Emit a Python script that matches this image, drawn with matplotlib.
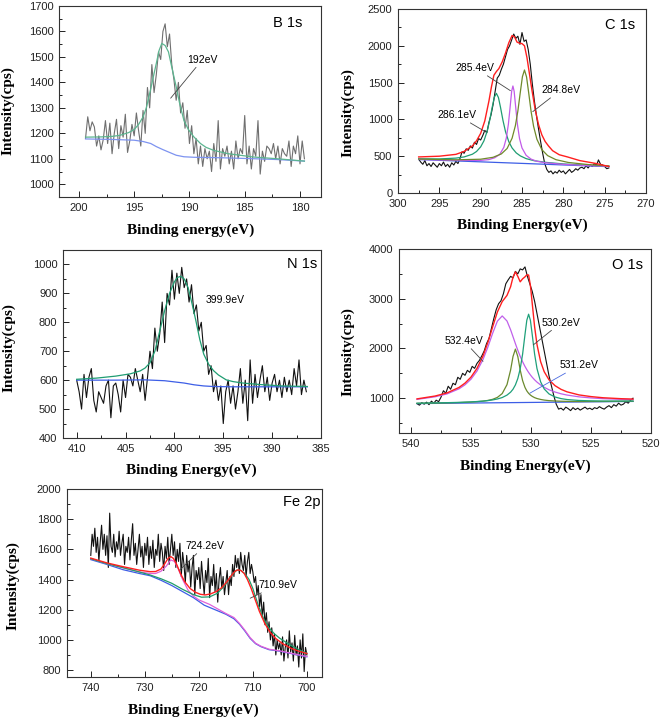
import numpy as np
import matplotlib
matplotlib.use('Agg')
import matplotlib.pyplot as plt
from matplotlib.ticker import MultipleLocator

plt.rcParams['font.family'] = ['Liberation Sans', 'DejaVu Sans']
plt.rcParams['font.size'] = 7.5

# ---------------- B 1s ----------------
bData = [1180, 1265, 1210, 1245, 1225, 1150, 1190, 1135, 1175, 1250, 1160, 1240, 1120, 1200,
         1255, 1140, 1230, 1185, 1275, 1125, 1170, 1235, 1190, 1280, 1210, 1150, 1290,
         1200, 1380, 1300, 1470, 1360, 1430, 1520, 1490, 1600, 1630, 1540, 1590, 1470, 1410,
         1330, 1400, 1280, 1320, 1220, 1290, 1160, 1230, 1120, 1180, 1080, 1150,
         1070, 1140, 1100, 1130, 1050, 1160, 1090, 1250, 1060, 1140, 1110, 1150, 1080, 1130,
         1060, 1170, 1100, 1140, 1120, 1270, 1080, 1150, 1060, 1140, 1110, 1250, 1040, 1130,
         1090, 1150, 1140, 1120, 1160, 1100, 1150, 1080, 1140, 1120, 1110, 1170, 1070, 1150,
         1120, 1190, 1080, 1170, 1100]
bEnergy = np.linspace(199.4, 179.6, len(bData))
bGreenX = [199.4, 198, 197, 196.3, 195.5, 195, 194.6, 194.2, 193.9, 193.6, 193.3, 193.0, 192.75,
           192.5, 192.2, 191.9, 191.6, 191.2, 190.9, 190.5, 190.1, 189.6, 189, 188.5, 187.8,
           186.5, 184.2, 182, 179.6]
bGreenY = [1185, 1186, 1188, 1192, 1203, 1215, 1235, 1264, 1300, 1356, 1415, 1474, 1525, 1553,
           1545, 1520, 1460, 1383, 1320, 1251, 1215, 1186, 1160, 1145, 1133, 1120, 1107, 1100, 1091]
bBlueX = [199.4, 197, 195, 194.2, 193.5, 193.0, 192.4, 191.8, 191.2, 190.5, 189.6, 187, 184, 182, 179.6]
bBlueY = [1178, 1176, 1173, 1168, 1160, 1148, 1136, 1125, 1114, 1108, 1106, 1104, 1100, 1097, 1091]

# ---------------- C 1s ----------------
cData = [460, 420, 390, 440, 370, 400, 360, 410, 380, 350, 400, 370, 420, 360, 390, 350, 410, 380, 430, 400,
         470, 560, 540, 600, 580, 640, 610, 690, 660, 740, 720,
         780, 850, 820, 960, 1060, 1200, 1380, 1560,
         1600, 1680, 1750, 1850, 1950, 2000, 2080, 2160,
         2100, 2130, 2020, 2180, 2060, 2080, 1950, 1750,
         1480, 1250, 1050, 870, 700, 540, 400, 320,
         280, 300, 260, 290, 270, 310, 280, 300, 260, 290, 320, 280, 300, 330, 310, 340,
         350, 330, 370, 340, 380, 360, 400, 370, 450, 390, 380, 360, 330, 340]
cEnergy = np.linspace(297.5, 274.5, len(cData))
cRedX = [297.5, 295, 293, 292, 291, 290.5, 290, 289.5, 289, 288.7, 288.4, 288.1, 287.8, 287.4, 287,
         286.6, 286.2, 285.9, 285.6, 285.3, 285.0, 284.7, 284.4, 284.1, 283.8, 283.4, 283.0, 282.6,
         282.2, 281.8, 281.3, 280.5, 279.5, 278, 276, 274.5]
cRedY = [490, 500, 525, 565, 640, 710, 810, 980, 1250, 1440, 1600, 1650, 1690, 1780, 1900, 2040,
         2140, 2120, 2050, 2035, 2030, 2000, 1840, 1620, 1400, 1130, 930, 790, 700, 640, 575, 520,
         490, 440, 400, 360]
cTealX = [297.5, 295, 293, 292, 291, 290.5, 290, 289.6, 289.2, 288.9, 288.6, 288.35, 288.1, 287.85,
          287.6, 287.3, 287.0, 286.6, 286.2, 285.7, 285.2, 284.5, 283.5, 282, 280, 277.5, 274.5]
cTealY = [465, 463, 474, 490, 527, 564, 627, 710, 845, 991, 1168, 1300, 1354, 1297, 1164, 985, 836,
          698, 612, 545, 504, 467, 438, 415, 395, 379, 363]
cVioletX = [297.5, 293, 290, 289, 288.3, 287.7, 287.2, 286.9, 286.65, 286.45, 286.25, 286.1, 285.95,
            285.75, 285.55, 285.3, 285.0, 284.5, 283.9, 283.2, 282.2, 280, 277, 274.5]
cVioletY = [457, 443, 443, 454, 479, 524, 620, 745, 932, 1153, 1383, 1454, 1382, 1151, 930, 740, 612,
            512, 460, 431, 411, 389, 372, 363]
cOliveX = [297.5, 293, 290, 288.5, 287.5, 286.8, 286.2, 285.8, 285.5, 285.2, 284.95, 284.7, 284.45,
           284.2, 283.9, 283.6, 283.2, 282.6, 281.9, 280.9, 279.4, 277, 274.5]
cOliveY = [461, 451, 459, 485, 531, 605, 744, 915, 1114, 1373, 1580, 1671, 1577, 1369, 1108, 907, 731,
           589, 508, 453, 415, 386, 368]
cBlueX = [297.5, 274.5]
cBlueY = [455, 358]

# ---------------- N 1s ----------------
nData = [600, 560, 500, 620, 540, 610, 640, 530, 490, 560, 540, 520, 580, 600, 470, 580, 590, 550, 490,
         600, 540, 620, 610, 580, 640, 600, 560, 620, 530,
         610, 700, 640, 780, 700, 760, 870, 730, 900, 860, 980, 880, 970, 900, 990, 920, 950, 870, 930, 830,
         860, 770, 800, 700, 720, 620, 650, 560, 600, 530, 580, 450, 560, 600, 520, 580, 500, 560, 640,
         520, 600, 460, 670, 520, 620, 540, 600, 650, 560, 610, 530, 590, 620, 560, 600, 540, 610, 560,
         600, 550, 640, 580, 670, 550, 600, 560]
nEnergy = np.linspace(410.0, 386.5, len(nData))
nGreenX = [410.0, 408, 406, 404.5, 403.5, 403, 402.5, 402, 401.5, 401, 400.5, 400, 399.7, 399.35, 399,
           398.6, 398.2, 397.8, 397.4, 397.0, 396.5, 396, 395.5, 394.7, 394, 393, 391.3, 389, 386.4]
nGreenY = [603, 607, 614, 622, 632, 642, 660, 700, 770, 840, 900, 940, 955, 959, 950, 920, 865, 805,
           740, 690, 655, 633, 618, 601, 595, 590, 585, 580, 578]
nBlueX = [410, 406, 403, 401, 399, 398, 397, 396, 394, 390, 386.4]
nBlueY = [600, 600, 601, 598, 590, 584, 580, 578, 577, 577, 577]

# ---------------- O 1s ----------------
oData = [890, 860, 910, 880, 920, 870, 940, 900, 960, 930,
         1020, 1150, 1100, 1240, 1180, 1300, 1270, 1420, 1380, 1500, 1460, 1560, 1520, 1640, 1600, 1700,
         1760, 1850,
         1950, 2100, 2200, 2400, 2600, 2780, 2900, 2960, 3100, 3300, 3380, 3450, 3420, 3550, 3500,
         3600, 3580, 3640, 3450, 3300, 3150, 2950, 2700, 2450, 2200, 1950, 1700, 1450, 1250, 1050,
         880, 780, 800, 760, 820, 790, 750, 810, 770, 800, 760, 790, 820, 780, 800, 770, 810, 790, 830,
         800, 780, 820, 850, 810, 870, 840, 900, 860, 880, 930, 900, 960, 1000]
oEnergy = np.linspace(539.5, 521.5, len(oData))
oFitX = [539.5, 538, 537, 536, 535.5, 535, 534.5, 534, 533.6, 533.2, 532.8, 532.4, 532.0, 531.7, 531.5,
         531.3, 531.1, 530.9, 530.7, 530.5, 530.35, 530.2, 530.05, 529.9, 529.7, 529.5, 529.2, 528.9,
         528.5, 528, 527.5, 527, 526, 525, 524, 522.5, 521.5]
oRedY = [986, 1043, 1106, 1216, 1303, 1424, 1600, 1849, 2117, 2431, 2734, 2942, 3067, 3241, 3433, 3540,
         3450, 3340, 3400, 3440, 3480, 3477, 3268, 2912, 2438, 2078, 1736, 1533, 1370, 1252, 1178, 1128,
         1066, 1032, 1009, 990, 982]
oVioletY = [976, 1028, 1086, 1188, 1269, 1382, 1545, 1777, 2023, 2303, 2550, 2654, 2552, 2376, 2237,
            2097, 1963, 1842, 1733, 1638, 1575, 1518, 1468, 1422, 1369, 1323, 1266, 1219, 1169, 1124,
            1089, 1063, 1027, 1005, 990, 977, 972]
oOliveY = [896, 902, 906, 912, 917, 922, 930, 941, 955, 977, 1016, 1093, 1273, 1566, 1838, 1987, 1839,
           1568, 1354, 1216, 1147, 1098, 1063, 1037, 1011, 993, 975, 962, 951, 944, 939, 936, 933, 934,
           934, 937, 938]
oTealY = [898, 905, 910, 916, 921, 926, 933, 941, 951, 965, 984, 1013, 1062, 1121, 1180, 1267, 1395,
          1591, 1885, 2282, 2566, 2689, 2567, 2283, 1888, 1594, 1329, 1186, 1086, 1024, 992, 973, 954,
          947, 943, 942, 942]
oBlueX = [539.5, 521.5]
oBlueY = [892, 935]

# ---------------- Fe 2p ----------------
feData = [1560, 1700, 1620, 1740, 1580, 1680, 1520, 1650, 1760, 1600, 1700, 1560, 1690, 1480, 1840, 1620,
          1580, 1700, 1550, 1650,
          1600, 1720, 1560, 1640, 1700, 1500, 1620, 1580, 1680, 1530, 1660, 1770, 1560, 1640, 1500, 1600,
          1700, 1550, 1620, 1480,
          1640, 1560, 1680, 1500, 1620, 1540, 1660, 1480, 1600, 1560, 1700, 1520, 1640, 1580, 1460, 1620,
          1540, 1680, 1500, 1600,
          1700, 1560, 1650, 1480, 1600, 1520, 1640, 1420, 1580, 1500, 1380, 1560, 1450, 1520, 1350, 1480,
          1560, 1300, 1460, 1400,
          1480, 1340, 1520, 1400, 1300, 1460, 1380, 1540, 1280, 1420, 1360, 1500, 1320, 1440, 1250, 1400,
          1480, 1340, 1420, 1300,
          1380, 1460, 1300, 1420, 1360, 1500, 1420, 1560, 1480, 1540, 1440, 1580, 1500, 1460, 1560, 1420,
          1520, 1580, 1440, 1500,
          1450, 1380, 1420, 1300, 1360, 1220, 1300, 1150, 1250, 1100, 1180, 1050, 1120, 1000, 1080, 960,
          1040, 900, 1000, 940,
          980, 900, 1020, 860, 950, 1000, 880, 1060, 920, 980, 860, 1030, 900, 960, 820, 1000, 880, 1040,
          790, 950, 900]
feEnergy = np.linspace(740.0, 700.0, len(feData))
feRedX = [740, 737, 734, 731, 729, 728, 727, 726.3, 725.7, 725.2, 724.7, 724.1, 723.4, 722.6, 721.6, 720.6,
          719.7, 718.8, 717.8, 716.8, 715.8, 714.8, 714, 713.3, 712.8, 712.2, 711.6, 711, 710.3, 709.6,
          708.8, 707.8, 706.8, 705.8, 704.5, 703, 701.5, 700]
feRedY = [1542, 1510, 1485, 1462, 1452, 1453, 1470, 1505, 1540, 1552, 1540, 1500, 1440, 1385, 1340, 1315,
          1302, 1298, 1305, 1320, 1345, 1385, 1425, 1455, 1464, 1460, 1440, 1400, 1340, 1270, 1190, 1110,
          1050, 1010, 975, 945, 925, 910]
feBlueX = [740, 737, 734, 731, 729, 727, 725, 723, 721, 719, 717, 715, 713.5, 712.5, 711.5, 710.5, 709.5,
           708.5, 707, 705, 703, 701, 700]
feBlueY = [1532, 1500, 1465, 1440, 1425, 1395, 1360, 1320, 1280, 1230, 1200, 1170, 1140, 1105, 1060, 1010,
           975, 955, 935, 925, 910, 895, 888]
fePinkX = [740, 737, 734, 731, 729, 728, 727, 726, 725.2, 724.5, 723.8, 723, 722, 721, 720, 719, 718, 717,
           716, 715, 713.5, 712.5, 711.5, 710.5, 709.5, 708.5, 707, 705, 703, 701, 700]
fePinkY = [1538, 1505, 1478, 1450, 1440, 1440, 1455, 1490, 1530, 1520, 1470, 1400, 1330, 1290, 1265, 1250,
           1235, 1215, 1195, 1175, 1148, 1110, 1065, 1015, 978, 958, 938, 927, 912, 897, 890]
feGreenX = [740, 737, 734, 731, 729, 727, 725, 723, 721, 719.5, 718, 716.5, 715, 714, 713, 712.3, 711.5,
            710.7, 710, 709, 708, 707, 706, 705, 703, 701.5, 700]
feGreenY = [1538, 1505, 1478, 1450, 1430, 1405, 1375, 1335, 1300, 1283, 1285, 1310, 1370, 1425, 1462, 1462,
            1440, 1400, 1340, 1230, 1140, 1080, 1040, 1010, 965, 935, 912]

W, H = 661, 720
fig = plt.figure(figsize=(W / 100, H / 100), dpi=100)


def makeAxes(l, t, r, b):
    return fig.add_axes([l / W, 1 - b / H, (r - l) / W, (b - t) / H])


def styleAxes(ax, xlim, ylim, xmaj, ymaj, xlabel, tag, tagPos, xlabPos, ylabPos):
    ax.set_xlim(*xlim)
    ax.set_ylim(*ylim)
    ax.xaxis.set_major_locator(MultipleLocator(xmaj))
    ax.xaxis.set_minor_locator(MultipleLocator(xmaj / 2))
    ax.yaxis.set_major_locator(MultipleLocator(ymaj))
    ax.yaxis.set_minor_locator(MultipleLocator(ymaj / 2))
    ax.tick_params(which='both', direction='in', top=False, right=False, width=0.7, colors='#222222',
                   labelsize=8)
    ax.tick_params(which='major', length=4, pad=4)
    ax.tick_params(which='minor', length=2.5)
    for s in ax.spines.values():
        s.set_color('#333333')
        s.set_linewidth(0.8)
    lab = dict(family='Liberation Serif', fontweight='bold', fontsize=11)
    ax.set_xlabel(xlabel, **lab)
    ax.set_ylabel('Intensity(cps)', **lab)
    ax.xaxis.set_label_coords(*xlabPos)
    ax.yaxis.set_label_coords(*ylabPos)
    ax.xaxis.label.set_va('center')
    ax.yaxis.label.set_va('center')
    ax.text(tagPos[0], tagPos[1], tag, transform=ax.transAxes, ha='right', va='top', fontsize=10.5)


def note(ax, text, xy, xytext, color='#444444'):
    ax.annotate(text, xy=xy, xytext=xytext, fontsize=7.5, ha='left', va='bottom',
                arrowprops=dict(arrowstyle='-', color=color, lw=0.6, shrinkA=0, shrinkB=0))


# B 1s
ax1 = makeAxes(59, 6, 321, 197)
ax1.plot(bEnergy, bData, color='#6f6f6f', lw=0.8)
ax1.plot(bBlueX, bBlueY, color='#7d93f0', lw=0.9)
ax1.plot(bGreenX, bGreenY, color='#5cb590', lw=0.9)
note(ax1, '192eV', (191.7, 1338), (190.2, 1470))
styleAxes(ax1, (201.8, 178.1), (950, 1700), 5, 100, 'Binding energy(eV)', 'B 1s',
          (0.93, 0.95), (0.502, -0.172), (-0.195, 0.453))

# C 1s
ax2 = makeAxes(398, 9, 646, 193)
ax2.plot(cEnergy, cData, color='#111111', lw=0.8)
ax2.plot(cBlueX, cBlueY, color='#3d5ee6', lw=0.9)
ax2.plot(cTealX, cTealY, color='#1f9d72', lw=0.9)
ax2.plot(cVioletX, cVioletY, color='#c25be8', lw=0.9)
ax2.plot(cOliveX, cOliveY, color='#6f8a2a', lw=0.9)
ax2.plot(cRedX, cRedY, color='#ff1f1f', lw=1.0)
note(ax2, '286.1eV', (289.4, 830), (295.2, 990))
note(ax2, '285.4eV', (286.4, 1390), (293.0, 1630))
note(ax2, '284.8eV', (283.7, 1105), (282.7, 1330))
styleAxes(ax2, (300, 270), (0, 2500), 5, 500, 'Binding Energy(eV)', 'C 1s',
          (0.956, 0.95), (0.502, -0.174), (-0.204, 0.435))

# N 1s
ax3 = makeAxes(63, 250, 321, 438)
ax3.plot(nEnergy, nData, color='#111111', lw=0.8)
ax3.plot(nBlueX, nBlueY, color='#3d5ee6', lw=0.9)
ax3.plot(nGreenX, nGreenY, color='#1f9d72', lw=0.9)
ax3.text(396.8, 860, '399.9eV', fontsize=7.5, ha='left', va='bottom')
styleAxes(ax3, (411.4, 385), (400, 1050), 5, 100, 'Binding Energy(eV)', 'N 1s',
          (0.984, 0.963), (0.499, -0.170), (-0.209, 0.479))

# O 1s
ax4 = makeAxes(399, 249, 651, 433)
ax4.plot(oEnergy, oData, color='#111111', lw=0.8)
ax4.plot(oBlueX, oBlueY, color='#3d5ee6', lw=0.9)
ax4.plot(oFitX, oVioletY, color='#c060ea', lw=0.9)
ax4.plot(oFitX, oOliveY, color='#6b8a2e', lw=0.9)
ax4.plot(oFitX, oTealY, color='#1fa07a', lw=0.9)
ax4.plot(oFitX, oRedY, color='#ff1f1f', lw=1.0)
note(ax4, '532.4eV', (534.0, 1740), (537.2, 2050))
note(ax4, '530.2eV', (529.8, 2073), (529.1, 2420))
note(ax4, '531.2eV', (530.1, 1100), (527.6, 1560), color='#4a6ae0')
styleAxes(ax4, (541, 520), (300, 4000), 5, 1000, 'Binding Energy(eV)', 'O 1s',
          (0.968, 0.951), (0.5, -0.183), (-0.202, 0.442))

# Fe 2p
ax5 = makeAxes(67, 489, 322, 677)
ax5.plot(feEnergy, feData, color='#111111', lw=0.8)
ax5.plot(feBlueX, feBlueY, color='#3d5ee6', lw=0.9)
ax5.plot(fePinkX, fePinkY, color='#e060d8', lw=0.9)
ax5.plot(feGreenX, feGreenY, color='#1f9d6a', lw=0.9)
ax5.plot(feRedX, feRedY, color='#ff1f1f', lw=1.0)
note(ax5, '724.2eV', (723.5, 1464), (722.5, 1590))
note(ax5, '710.9eV', (710.5, 1276), (709.0, 1330))
styleAxes(ax5, (744.4, 697.2), (754, 2000), 10, 200, 'Binding Energy(eV)', 'Fe 2p',
          (0.996, 0.968), (0.494, -0.176), (-0.214, 0.489))

fig.savefig('out.png', dpi=100)
